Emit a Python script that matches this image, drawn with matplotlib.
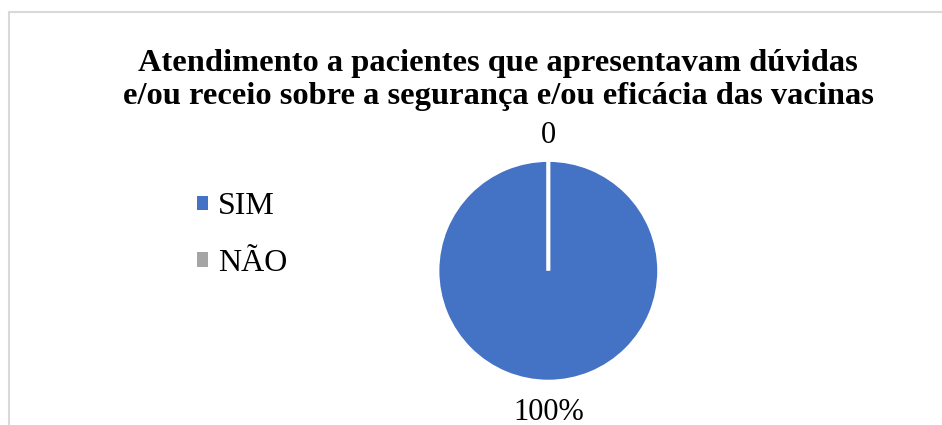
import matplotlib
matplotlib.use("Agg")
import matplotlib.pyplot as plt
from matplotlib.patches import Rectangle

categories = ["SIM", "NÃO"]
values = [100, 0]
label_texts = ["100%", "0"]
colors = ["#4472C4", "#A5A5A5"]
title = "Atendimento a pacientes que apresentavam dúvidas\ne/ou receio sobre a segurança e/ou eficácia das vacinas"

W, H = 942, 425
dpi = 100
fig = plt.figure(figsize=(W / dpi, H / dpi), dpi=dpi)
plt.rcParams['font.family'] = ['Liberation Serif', 'DejaVu Serif']

# border (top + left visible)
fig.patches.append(Rectangle((8.5 / W, -0.2), 1.2, (425 - 11.5) / H + 0.2,
                             transform=fig.transFigure, fill=False,
                             edgecolor="#D9D9D9", linewidth=1.5, clip_on=False))

cx, cy, r = 548.3, 425 - 270.8, 111
ax = fig.add_axes([(cx - r) / W, (cy - r) / H, 2 * r / W, 2 * r / H])
wedges, texts = ax.pie(values, colors=colors, startangle=90, counterclock=False,
                       labels=label_texts, labeldistance=1.0,
                       wedgeprops=dict(edgecolor="white", linewidth=3))
ax.set_xlim(-1, 1)
ax.set_ylim(-1, 1)
ax.set_aspect("equal")
ax.axis("off")
# place data labels
texts[0].set_position((0, -1.275))
texts[1].set_position((0, 1.22))
for t in texts:
    t.set_ha("center")
    t.set_va("center")
    t.set_fontsize(22)
    t.set_color("black")

fig.text(498 / W, 1 - 80 / H, title, ha="center", va="center",
         fontsize=23.4, fontweight="bold", linespacing=1.17)

leg = fig.legend(wedges, categories, loc="center left",
                 bbox_to_anchor=(184 / W, 1 - 235 / H), frameon=False,
                 fontsize=23, handlelength=0.34, handleheight=0.34,
                 handletextpad=0.33, labelspacing=0.85, borderaxespad=0)
for h in leg.legend_handles:
    h.set_edgecolor("none")

fig.savefig("out.png", dpi=dpi, facecolor="white")
